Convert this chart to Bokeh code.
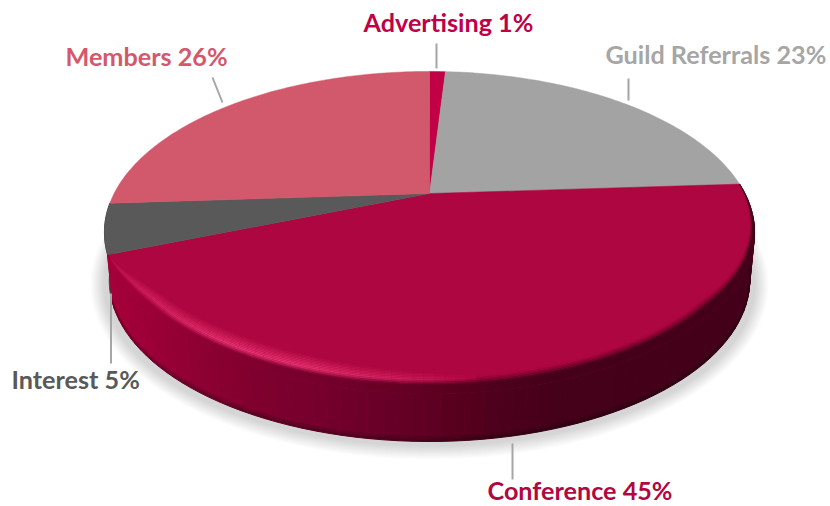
import numpy as np
from bokeh.plotting import figure
from bokeh.embed import file_html
from bokeh.resources import INLINE
from bokeh.core.properties import value

categories = ["Advertising", "Guild Referrals", "Conference", "Interest", "Members"]
shares = [1, 23, 45, 5, 26]
face_colors = ["#c20045", "#a3a3a3", "#ae0640", "#595959", "#d2586b"]
label_colors = ["#c00048", "#a6a6a6", "#b0083f", "#595959", "#d4586c"]
label_x = [363, 605, 487, 11, 65]
label_y = [21, 53, 489, 378, 55]
leader_x0 = [436, 628, 512, 110.5, 212]
leader_y0 = [43, 78, 443, 293, 77]
leader_x1 = [436, 628, 512, 110.5, 222]
leader_y1 = [68, 100, 479, 363, 102]

# layout (picture pixels)
W, H = 830, 506
APEX_X, APEX_Y = 429.0, 193.0
A, B, K = 315.4, 151.6, 0.242
DEPTH = 48.0
BASE_SHRINK = 0.985


def rim(theta_deg):
    t = np.radians(np.asarray(theta_deg, float))
    u, v = np.sin(t), -np.cos(t)
    d = 1 - K * v
    return APEX_X + A * u / d, APEX_Y + B * v / d


def mix(c1, c2, t):
    return tuple(a + (b - a) * t for a, b in zip(c1, c2))


def rgb(h):
    return tuple(int(h[i:i + 2], 16) for i in (1, 3, 5))


def tohex(c):
    return "#%02x%02x%02x" % tuple(int(round(max(0, min(255, a)))) for a in c)


side_stop_x = [105, 130, 250, 350, 430, 500, 560, 760]
side_stop_c = [rgb(c) for c in ["#a60039", "#a00038", "#80002e", "#70002a", "#5e0021", "#4d001b", "#45001a", "#430018"]]


def side_color(x):
    return tuple(np.interp(x, side_stop_x, [c[i] for c in side_stop_c]) for i in range(3))


hl_x = [105, 130, 220, 300, 400, 480, 760]
hl_s = [0.35, 0.6, 1.0, 1.0, 0.55, 0.0, 0.0]
PINK = rgb("#f03a78")

p = figure(width=W, height=H, x_range=(0, W), y_range=(H, 0),
           output_backend="svg", toolbar_location=None, min_border=0)
p.axis.visible = False
p.grid.visible = False
p.outline_line_color = None

edges = np.concatenate([[0], np.cumsum(shares)]) * 3.6

# soft shadow beneath the pie
sh = np.linspace(0, 360, 181)
sx, sy = rim(sh)
ecx, ecy = APEX_X - 2, 232.0
for s in range(14, 0, -1):
    f = 1 + s / 325.0
    g = 1 + s / 161.0
    p.patch(ecx + (sx - ecx) * f, ecy + DEPTH + 4 + (sy - ecy) * g, fill_color="#000000",
            fill_alpha=0.011, line_color=None)

# walls of Interest and Conference
ti0, ti1 = edges[3], edges[4]
th = np.linspace(ti0, ti1, 24)
x, y = rim(th)
bx = ecx + (x - ecx) * BASE_SHRINK
p.patch(np.r_[x, bx[::-1]], np.r_[y, (y + DEPTH)[::-1]], fill_color="#434343", line_color="#434343")

c0, c1 = edges[2], edges[3]
th = np.arange(c0, c1 + 0.01, 2.0)
x, y = rim(th)
bx = ecx + (x - ecx) * BASE_SHRINK
for f0, f1, dark in [(0, 0.9, 1.0), (0.9, 0.96, 0.86), (0.96, 1.0, 0.72)]:
    xs, ys, cs = [], [], []
    for i in range(len(th) - 1):
        col = side_color((x[i] + x[i + 1]) / 2)
        xs.append([x[i] + (bx[i] - x[i]) * f0, x[i + 1] + (bx[i + 1] - x[i + 1]) * f0,
                   x[i + 1] + (bx[i + 1] - x[i + 1]) * f1, x[i] + (bx[i] - x[i]) * f1])
        ys.append([y[i] + DEPTH * f0, y[i + 1] + DEPTH * f0, y[i + 1] + DEPTH * f1, y[i] + DEPTH * f1])
        cs.append(tohex(tuple(a * dark for a in col)))
    p.patches(xs, ys, fill_color=cs, line_color=cs, line_width=1)

# top faces
for i, cat in enumerate(categories):
    th = np.linspace(edges[i], edges[i + 1], max(3, int(shares[i] * 3.6)))
    x, y = rim(th)
    p.patch(np.r_[APEX_X, x], np.r_[APEX_Y, y], fill_color=face_colors[i], line_color=face_colors[i], line_width=0.5)

# bevel on the Conference rim
th = np.arange(c0, c1 + 0.01, 1.5)
x, y = rim(th)
dx, dy = np.gradient(x), np.gradient(y)
ln = np.hypot(dx, dy)
nx, ny = dy / ln, -dx / ln
sgn = np.sign((APEX_X - x) * nx + (APEX_Y - y) * ny)
nx, ny = nx * sgn, ny * sgn
w_left = np.sin(np.pi / 2 * np.clip((c1 - th) / 22.0, 0, 1))
w_right = np.clip((th - c0) / 45.0, 0, 1) ** 1.2
w = np.minimum(w_left, w_right)
FACE = rgb(face_colors[2])
START = 9.0
band_d = np.arange(0, 24.01, 1.5)

# wall colour between the rim and the bevel's start
xs, ys, cs = [], [], []
for i in range(len(th) - 1):
    col = tohex(side_color((x[i] + x[i + 1]) / 2))
    xs.append([x[i], x[i + 1], x[i + 1] + nx[i + 1] * START * w[i + 1], x[i] + nx[i] * START * w[i]])
    ys.append([y[i], y[i + 1], y[i + 1] + ny[i + 1] * START * w[i + 1], y[i] + ny[i] * START * w[i]])
    cs.append(col)
p.patches(xs, ys, fill_color=cs, line_color=cs, line_width=1)

xs, ys, cs = [], [], []
for j in range(len(band_d) - 1):
    d0, d1 = band_d[j], band_d[j + 1]
    mid = (d0 + d1) / 2
    for i in range(len(th) - 1):
        xm = (x[i] + x[i + 1]) / 2
        hs = float(np.interp(xm, hl_x, hl_s))
        side = side_color(xm)
        if hs <= 0.01:
            pk_pos, span = 3.0, 4.0
            peak = mix(side, FACE, 0.5)
        else:
            pk_pos, span = 5.0, 4.0 + 9.0 * hs
            peak = mix(FACE, PINK, hs * 0.85)
        if mid > pk_pos + span:
            continue
        if mid < pk_pos:
            c = mix(side, peak, mid / pk_pos)
        else:
            c = mix(peak, FACE, (mid - pk_pos) / span)
        xs.append([x[i] + nx[i] * (START + d0) * w[i], x[i + 1] + nx[i + 1] * (START + d0) * w[i + 1],
                   x[i + 1] + nx[i + 1] * (START + d1) * w[i + 1], x[i] + nx[i] * (START + d1) * w[i]])
        ys.append([y[i] + ny[i] * (START + d0) * w[i], y[i + 1] + ny[i + 1] * (START + d0) * w[i + 1],
                   y[i + 1] + ny[i + 1] * (START + d1) * w[i + 1], y[i] + ny[i] * (START + d1) * w[i]])
        cs.append(tohex(c))
p.patches(xs, ys, fill_color=cs, line_color=None)

# leader lines
p.segment(leader_x0, leader_y0, leader_x1, leader_y1, line_color="#a6a6a6", line_width=2)

# labels
for i, cat in enumerate(categories):
    p.text([label_x[i]], [label_y[i]], text=[f"{cat} {shares[i]}%"], text_font=value("Lato"),
           text_font_style="bold", text_font_size="25.2px", text_color=label_colors[i],
           text_baseline="alphabetic", text_align="left")

open("out.html", "w").write(file_html(p, INLINE))
